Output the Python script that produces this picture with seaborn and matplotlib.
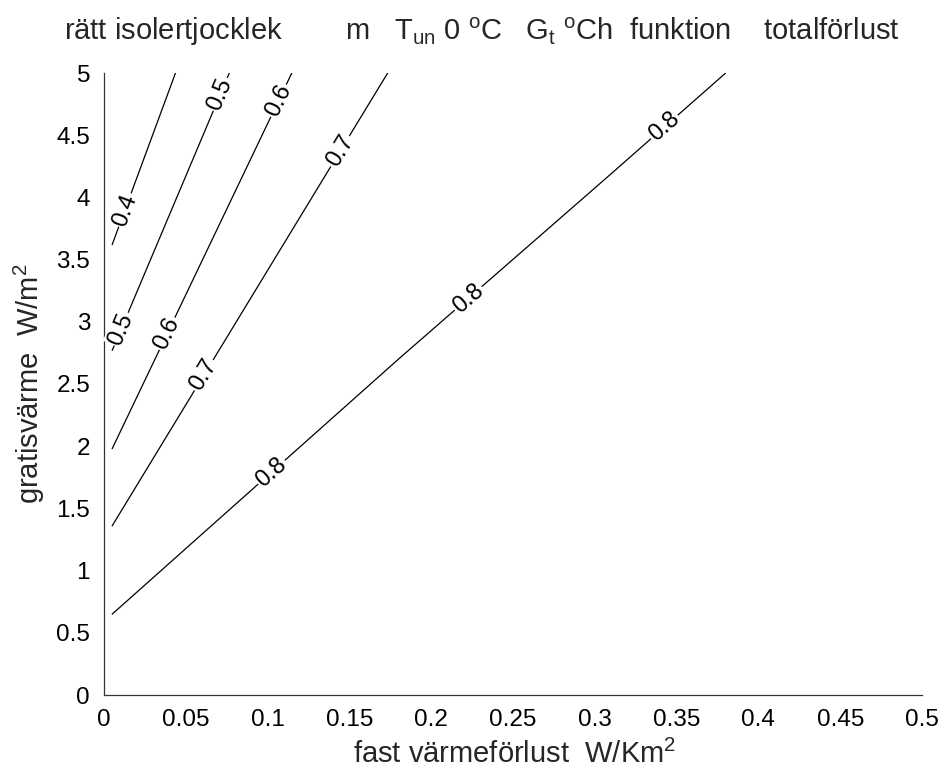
import numpy as np
import pandas as pd
import matplotlib
matplotlib.use("Agg")
import matplotlib.pyplot as plt
import seaborn as sns

# ---- data (contour levels of the chart) ----
levels = [0.4, 0.5, 0.6, 0.7, 0.8]
line_x = {
    0.4: [0.005, 0.0437],
    0.5: [0.005, 0.0766],
    0.6: [0.005, 0.1148],
    0.7: [0.005, 0.1734],
    0.8: [0.005, 0.180, 0.2673, 0.310, 0.380],
}
line_y = {
    0.4: [3.62, 5.0],
    0.5: [2.77, 5.0],
    0.6: [1.98, 5.0],
    0.7: [1.36, 5.0],
    0.8: [0.65, 2.70, 3.70, 4.19, 5.0],
}
label_x = {
    0.4: [0.0128],
    0.5: [0.0105, 0.0711],
    0.6: [0.0386, 0.1067],
    0.7: [0.061, 0.1443],
    0.8: [0.1024, 0.2226, 0.3425],
}
x_ticks = [0, 0.05, 0.1, 0.15, 0.2, 0.25, 0.3, 0.35, 0.4, 0.45, 0.5]
x_tick_labels = ["0", "0.05", "0.1", "0.15", "0.2", "0.25", "0.3", "0.35", "0.4", "0.45", "0.5"]
y_ticks = [0, 0.5, 1, 1.5, 2, 2.5, 3, 3.5, 4, 4.5, 5]
y_tick_labels = ["0", "0.5", "1", "1.5", "2", "2.5", "3", "3.5", "4", "4.5", "5"]

title_text = (r"rätt isolertjocklek        m   T$_{\mathregular{un}}$ 0 $^{\mathregular{o}}$C"
              r"   G$_{\mathregular{t}}$ $^{\mathregular{o}}$Ch  funktion    totalförlust")
x_label = r"fast värmeförlust  W/Km$^{\mathregular{2}}$"
y_label = r"gratisvärme  W/m$^{\mathregular{2}}$"

# ---- styling ----
sns.set_theme(style="white")
main_font = "Liberation Sans"
plt.rcParams["font.family"] = [main_font, "DejaVu Sans"]
plt.rcParams["mathtext.fontset"] = "custom"
plt.rcParams["mathtext.rm"] = main_font

fig = plt.figure(figsize=(9.42, 7.76), dpi=100)
L, R, T, B = 104 / 942, 922 / 942, 1 - 73 / 776, 1 - 695 / 776
ax = fig.add_axes([L, B, R - L, T - B])

rows = []
for lv in levels:
    for i, (xx, yy) in enumerate(zip(line_x[lv], line_y[lv])):
        rows.append({"x": xx, "y": yy, "level": str(lv), "order": i})
df = pd.DataFrame(rows)

for lv in levels:
    sub = df[df["level"] == str(lv)]
    sns.lineplot(data=sub, x="x", y="y", sort=False, estimator=None,
                 color="black", linewidth=0.9, ax=ax)

ax.set_xlim(0, 0.5)
ax.set_ylim(0, 5)
ax.set_xticks(x_ticks)
ax.set_xticklabels(x_tick_labels)
ax.set_yticks(y_ticks)
ax.set_yticklabels(y_tick_labels)
ax.tick_params(direction="in", length=8, width=0.8, colors="#333333",
               labelcolor="black", labelsize=17.5)
ax.tick_params(axis="x", pad=10)
ax.tick_params(axis="y", pad=10)
for s in ["top", "right"]:
    ax.spines[s].set_visible(False)
for s in ["left", "bottom"]:
    ax.spines[s].set_color("#333333")
    ax.spines[s].set_linewidth(0.9)

# contour labels: placed on each line, rotated along it
fig.canvas.draw()
for lv in levels:
    xs = np.array(line_x[lv]); ys = np.array(line_y[lv])
    for lx in label_x[lv]:
        ly = np.interp(lx, xs, ys)
        p0 = ax.transData.transform((lx - 0.005, np.interp(lx - 0.005, xs, ys)))
        p1 = ax.transData.transform((lx + 0.005, np.interp(lx + 0.005, xs, ys)))
        ang = np.degrees(np.arctan2(p1[1] - p0[1], p1[0] - p0[0]))
        ax.text(lx, ly, f"{lv:g}", rotation=ang, rotation_mode="anchor",
                ha="center", va="center", fontsize=17, color="black",
                bbox=dict(facecolor="white", edgecolor="none", pad=1.0))

ax.set_xlabel(x_label, fontsize=21)
ax.set_ylabel(y_label, fontsize=21)
ax.xaxis.set_label_coords(0.502, -0.072)
ax.yaxis.set_label_coords(-0.07, 0.5)

fig.text(482 / 942, 1 - 32 / 776, title_text, ha="center", va="center",
         fontsize=21)

fig.savefig("out.png", dpi=100, facecolor="white")
